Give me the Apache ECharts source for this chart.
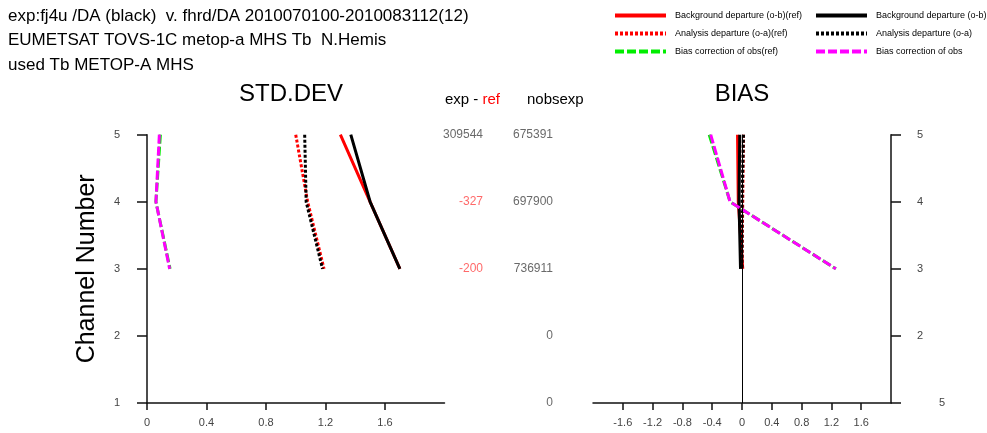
<!DOCTYPE html>
<html>
<head>
<meta charset="utf-8">
<script src="https://cdn.jsdelivr.net/npm/echarts@6/dist/echarts.min.js"></script>
<style>
  html, body { margin: 0; padding: 0; background: #fff; }
  #chart { width: 987px; height: 433px; }
</style>
</head>
<body>
<div id="chart"></div>
<script>
// Channels where statistics are available (top to bottom)
const channels = [5, 4, 3];

// STD.DEV of departures and bias correction
const stdBgRef = [1.30, 1.50, 1.70];
const stdBg    = [1.37, 1.50, 1.70];
const stdAnRef = [1.00, 1.08, 1.19];
const stdAn    = [1.06, 1.07, 1.18];
const stdBcRef = [0.09, 0.06, 0.155];
const stdBc    = [0.083, 0.06, 0.152];

// BIAS of departures and bias correction
const biasBgRef = [-0.06, -0.05, 0.01];
const biasBg    = [-0.03, -0.04, -0.02];
const biasAnRef = [0.02, 0.01, 0.00];
const biasAn    = [0.02, 0.00, 0.00];
const biasBcRef = [-0.44, -0.16, 1.26];
const biasBc    = [-0.42, -0.16, 1.26];

// Observation counts per channel
const diffChannels = [5, 4, 3];
const expMinusRef  = [309544, -327, -200];
const nobsChannels = [5, 4, 3, 2, 1];
const nobsExp      = [675391, 697900, 736911, 0, 0];

// Axis tick labels
const stdTicks  = [0, 0.4, 0.8, 1.2, 1.6];
const biasTicks = [-1.6, -1.2, -0.8, -0.4, 0, 0.4, 0.8, 1.2, 1.6];

const FONT = 'Liberation Sans';
const pair = (xs) => xs.map((x, i) => [x, channels[i]]);

const names = {
  bgRef: 'Background departure (o-b)(ref)',
  anRef: 'Analysis departure (o-a)(ref)',
  bcRef: 'Bias correction of obs(ref)',
  bg: 'Background departure (o-b)',
  an: 'Analysis departure (o-a)',
  bc: 'Bias correction of obs'
};
const styles = {
  bgRef: { color: '#ff0000', type: 'solid' },
  anRef: { color: '#ff0000', type: [3, 2] },
  bcRef: { color: '#00ee00', type: [9, 3] },
  bg: { color: '#000000', type: 'solid' },
  an: { color: '#000000', type: [3, 2] },
  bc: { color: '#ff00ff', type: [9, 3] }
};

function lineSeries(key, values, gridIdx) {
  return {
    name: names[key],
    type: 'line',
    xAxisIndex: gridIdx,
    yAxisIndex: gridIdx,
    symbol: 'none',
    silent: true,
    animation: false,
    color: styles[key].color,
    lineStyle: { color: styles[key].color, width: 3, type: styles[key].type, cap: 'butt' },
    data: pair(values)
  };
}

const axisLineStyle = { color: '#111', width: 1.5 };
const labelStyle = { color: '#444', fontSize: 11, fontFamily: FONT };

function xAxisFor(gridIdx, min, max, ticks) {
  return {
    type: 'value', gridIndex: gridIdx, min: min, max: max, interval: 0.4,
    axisLine: { show: true, onZero: false, lineStyle: axisLineStyle },
    axisTick: { show: true, length: 7, lineStyle: axisLineStyle, customValues: ticks },
    axisLabel: Object.assign({ margin: 14, customValues: ticks,
      formatter: (v) => String(Math.round(v * 10) / 10) }, labelStyle),
    splitLine: { show: false }
  };
}

function legendColumn(left, data) {
  return {
    orient: 'vertical', left: left, top: 6, itemWidth: 51, itemHeight: 10, itemGap: 9,
    data: data,
    itemStyle: { opacity: 0 },
    lineStyle: { width: 4 },
    textStyle: { fontSize: 9, color: '#000', fontFamily: FONT, padding: [0, 0, 0, 4] },
    selectedMode: false
  };
}

const chart = echarts.init(document.getElementById('chart'), null, { renderer: 'canvas' });

const option = {
  backgroundColor: '#ffffff',
  animation: false,
  textStyle: { fontFamily: FONT },
  title: [
    {
      text: 'exp:fj4u /DA (black)  v. fhrd/DA 2010070100-2010083112(12)\nEUMETSAT TOVS-1C metop-a MHS Tb  N.Hemis\nused Tb METOP-A MHS',
      left: 8, top: 4, padding: 0,
      textStyle: { fontSize: 17, fontWeight: 'normal', color: '#000', lineHeight: 24.5, fontFamily: FONT }
    },
    {
      text: 'STD.DEV', left: 291, top: 82, padding: 0, textAlign: 'center',
      textStyle: { fontSize: 24, fontWeight: 'normal', color: '#000', fontFamily: FONT }
    },
    {
      text: 'BIAS', left: 742, top: 82, padding: 0, textAlign: 'center',
      textStyle: { fontSize: 24, fontWeight: 'normal', color: '#000', fontFamily: FONT }
    },
    {
      text: '{k|exp - }{r|ref}', left: 445, top: 92, padding: 0,
      textStyle: { fontWeight: 'normal', rich: {
        k: { fontSize: 15, color: '#000', fontWeight: 'normal', fontFamily: FONT },
        r: { fontSize: 15, color: '#ff0000', fontWeight: 'normal', fontFamily: FONT }
      } }
    },
    {
      text: 'nobsexp', left: 527, top: 92, padding: 0,
      textStyle: { fontSize: 15, fontWeight: 'normal', color: '#000', fontFamily: FONT }
    }
  ],
  legend: [
    legendColumn(608, [names.bgRef, names.anRef, names.bcRef]),
    legendColumn(809, [names.bg, names.an, names.bc])
  ],
  grid: [
    { left: 147, top: 134.7, width: 297.5, height: 268.3 },
    { left: 593, top: 134.7, width: 298, height: 268.3 },
    { left: 483, top: 134.7, width: 70, height: 268.3 }
  ],
  xAxis: [
    xAxisFor(0, 0, 2.0, stdTicks),
    xAxisFor(1, -2.0, 2.0, biasTicks),
    { type: 'value', gridIndex: 2, min: 0, max: 1, show: false }
  ],
  yAxis: [
    {
      type: 'value', gridIndex: 0, min: 1, max: 5, interval: 1, position: 'left',
      name: 'Channel Number', nameLocation: 'middle', nameGap: 47, nameRotate: 90,
      nameTextStyle: { fontSize: 25, color: '#000', fontFamily: FONT },
      axisLine: { show: true, onZero: false, lineStyle: axisLineStyle },
      axisTick: { show: true, length: 10, lineStyle: axisLineStyle },
      axisLabel: Object.assign({ margin: 27 }, labelStyle),
      splitLine: { show: false }
    },
    {
      type: 'value', gridIndex: 1, min: 1, max: 5, interval: 1, position: 'right',
      axisLine: { show: true, onZero: false, lineStyle: axisLineStyle },
      axisTick: { show: true, length: 10, lineStyle: axisLineStyle },
      axisLabel: Object.assign({ margin: 26, formatter: (v) => (v === 1 ? '' : String(v)) }, labelStyle),
      splitLine: { show: false }
    },
    { type: 'value', gridIndex: 2, min: 1, max: 5, show: false }
  ],
  graphic: [
    {
      type: 'text', left: 939, top: 397,
      style: { text: '5', fill: '#444', font: '11px "Liberation Sans"' }
    }
  ],
  series: [
    lineSeries('bgRef', stdBgRef, 0),
    lineSeries('anRef', stdAnRef, 0),
    lineSeries('bcRef', stdBcRef, 0),
    lineSeries('bg', stdBg, 0),
    lineSeries('an', stdAn, 0),
    lineSeries('bc', stdBc, 0),
    // zero reference line on the bias panel
    {
      type: 'line', xAxisIndex: 1, yAxisIndex: 1, data: [], silent: true,
      markLine: {
        silent: true, symbol: 'none', animation: false,
        label: { show: false },
        lineStyle: { color: '#000', width: 1, type: 'solid' },
        data: [{ xAxis: 0 }]
      }
    },
    lineSeries('bgRef', biasBgRef, 1),
    lineSeries('anRef', biasAnRef, 1),
    lineSeries('bcRef', biasBcRef, 1),
    lineSeries('bg', biasBg, 1),
    lineSeries('an', biasAn, 1),
    lineSeries('bc', biasBc, 1),
    // exp - ref counts
    {
      type: 'scatter', xAxisIndex: 2, yAxisIndex: 2, symbolSize: 0, silent: true,
      data: expMinusRef.map((v, i) => ({
        value: [0, diffChannels[i]],
        label: { color: v < 0 ? '#ff4444' : '#444' }
      })),
      label: {
        show: true, position: 'left', distance: 0, fontSize: 12, fontFamily: FONT,
        formatter: (p) => String(expMinusRef[p.dataIndex])
      }
    },
    // observation counts
    {
      type: 'scatter', xAxisIndex: 2, yAxisIndex: 2, symbolSize: 0, silent: true,
      data: nobsExp.map((v, i) => [1, nobsChannels[i]]),
      label: {
        show: true, position: 'left', distance: 0, fontSize: 12, color: '#444', fontFamily: FONT,
        formatter: (p) => String(nobsExp[p.dataIndex])
      }
    }
  ]
};

chart.setOption(option);
</script>
</body>
</html>
